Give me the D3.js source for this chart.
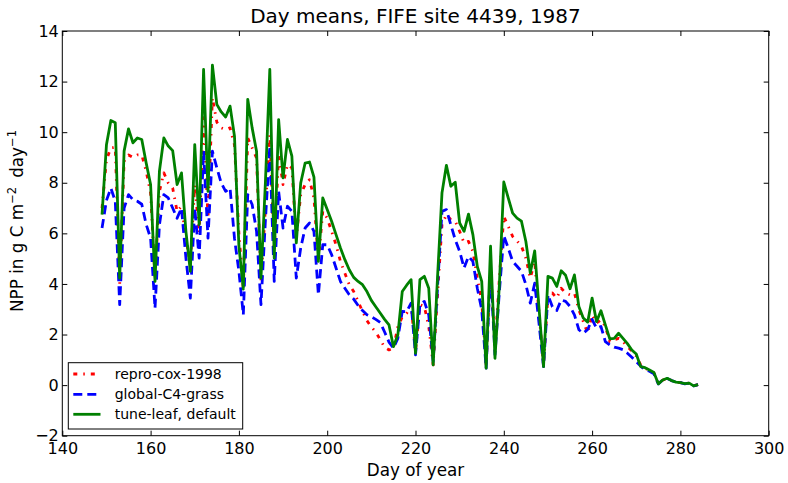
<!DOCTYPE html>
<html>
<head>
<meta charset="utf-8">
<script src="https://cdn.jsdelivr.net/npm/d3@7"></script>
<style>
  html, body { margin: 0; padding: 0; background: #fff; }
  svg { display: block; font-family: "DejaVu Sans", sans-serif; }
</style>
</head>
<body>
<svg id="chart" width="788" height="483"></svg>
<script>
// ---- data ----
const days = d3.range(149, 285);

const reproCox1998 = [
  7.0, 8.9, 9.38, 9.4, 4.0, 8.85, 9.1, 9.0, 9.1, 9.1,
  8.46, 7.6, 4.23, 7.66, 8.39, 7.99, 7.79, 6.87, 7.07, 5.81,
  4.76, 7.93, 6.01, 10.57, 6.6, 11.36, 10.4, 10.17, 10.1, 10.17,
  9.5, 6.0, 3.8, 9.77, 9.38, 8.98, 4.1, 7.0, 9.9, 5.29,
  9.12, 7.93, 8.72, 8.59, 5.81, 7.53, 7.93, 8.12, 7.4, 4.89,
  6.87, 6.6, 6.08, 5.55, 4.89, 4.43, 3.97, 3.7, 3.31, 2.91,
  2.55, 2.3, 2.1, 1.8, 1.5, 1.39, 1.46, 2.3, 2.7, 2.84,
  3.18, 1.33, 3.18, 3.11, 2.32, 0.8, 3.6, 6.34, 6.74, 6.54,
  6.48, 6.08, 5.62, 5.68, 5.29, 4.23, 3.31, 0.8, 4.63, 1.46,
  4.23, 6.67, 6.28, 5.88, 5.7, 5.49, 5.02, 4.23, 4.89, 2.8,
  0.8, 3.57, 3.64, 3.44, 3.83, 3.64, 3.57, 3.64, 2.98, 2.51,
  2.05, 2.78, 2.45, 2.58, 2.32, 1.72, 1.79, 1.85, 1.72, 1.52,
  1.35, 1.15, 0.8, 0.67, 0.58, 0.48, 0.05, 0.2, 0.26, 0.18,
  0.12, 0.1, 0.05, 0.08, -0.03, 0.02
];

const globalC4Grass = [
  6.21, 7.3, 7.79, 7.27, 3.18, 7.0, 7.53, 7.33, 7.27, 7.15,
  6.35, 5.81, 3.04, 6.34, 7.53, 7.4, 7.0, 6.6, 7.0, 5.02,
  3.44, 7.0, 5.02, 9.25, 5.81, 9.25, 8.59, 7.99, 7.66, 7.79,
  5.8, 4.5, 2.78, 7.53, 7.14, 6.08, 3.18, 6.5, 9.45, 4.1,
  7.66, 6.21, 7.07, 6.87, 4.23, 5.42, 6.21, 6.41, 6.08, 3.57,
  5.55, 5.55, 5.16, 4.63, 4.1, 3.83, 3.57, 3.4, 3.15, 2.95,
  2.78, 2.7, 2.6, 2.48, 2.1, 1.7, 1.46, 1.85, 2.91, 2.9,
  3.24, 1.2, 3.18, 3.31, 2.78, 0.93, 3.9, 6.87, 6.94, 6.34,
  5.75, 5.29, 4.63, 5.09, 4.89, 3.83, 2.98, 0.67, 4.63, 1.2,
  3.7, 5.9, 5.42, 4.89, 4.7, 4.5, 3.97, 3.24, 4.03, 2.4,
  0.73, 3.57, 3.1, 2.95, 3.37, 3.31, 3.11, 2.78, 2.19, 2.05,
  2.2, 2.6, 2.25, 2.32, 1.72, 1.59, 1.5, 1.46, 1.4, 1.26,
  1.1, 0.93, 0.75, 0.6, 0.55, 0.45, 0.05, 0.2, 0.26, 0.18,
  0.12, 0.1, 0.05, 0.08, -0.03, 0.02
];

const tuneLeafDefault = [
  6.74, 9.5, 10.46, 10.37, 4.23, 9.25, 10.13, 9.58, 9.77, 9.71,
  8.78, 7.93, 4.1, 8.46, 9.77, 9.45, 9.27, 7.93, 8.39, 6.08,
  4.5, 9.51, 6.34, 12.48, 7.66, 12.65, 11.1, 10.8, 10.6, 11.03,
  9.84, 5.5, 3.8, 11.3, 10.17, 9.25, 4.23, 8.0, 12.48, 5.02,
  10.5, 8.19, 9.71, 9.05, 5.62, 7.99, 8.78, 8.82, 8.22, 4.89,
  7.4, 6.94, 6.48, 5.95, 5.42, 4.96, 4.56, 4.26, 4.1, 3.97,
  3.7, 3.35, 3.1, 2.85, 2.6, 2.38, 1.52, 1.99, 3.7, 3.95,
  4.17, 1.26, 4.17, 4.3, 3.83, 0.8, 4.3, 7.6, 8.69, 7.86,
  8.02, 6.41, 6.08, 6.76, 5.95, 4.69, 4.1, 0.67, 5.49, 1.06,
  3.97, 8.03, 7.4, 6.8, 6.6, 6.48, 5.68, 4.43, 5.31, 3.0,
  0.73, 4.3, 4.23, 3.9, 4.52, 4.34, 3.81, 4.36, 3.11, 2.65,
  2.49, 3.44, 2.51, 2.94, 2.38, 1.83, 1.85, 2.05, 1.85, 1.64,
  1.39, 1.23, 0.73, 0.69, 0.6, 0.5, 0.05, 0.2, 0.27, 0.18,
  0.12, 0.1, 0.06, 0.08, -0.03, 0.02
];

const seriesNames = ["repro-cox-1998", "global-C4-grass", "tune-leaf, default"];
const seriesColors = ["#ff0000", "#0000ff", "#008000"];
const seriesDash = ["4,6,1.5,6", "9,5", null];
const xTicks = [140, 160, 180, 200, 220, 240, 260, 280, 300];
const yTicks = [-2, 0, 2, 4, 6, 8, 10, 12, 14];
const titleText = "Day means, FIFE site 4439, 1987";
const xLabelText = "Day of year";

// ---- layout ----
const svg = d3.select("#chart");
const mLeft = 62.3, mRight = 768.7, mTop = 31, mBottom = 435.7;

const x = d3.scaleLinear().domain([140, 300]).range([mLeft, mRight]);
const y = d3.scaleLinear().domain([-2, 14]).range([mBottom, mTop]);

const allSeries = [reproCox1998, globalC4Grass, tuneLeafDefault];

svg.append("defs").append("clipPath").attr("id", "clip")
  .append("rect").attr("x", mLeft).attr("y", mTop)
  .attr("width", mRight - mLeft).attr("height", mBottom - mTop);

const line = d3.line()
  .x((d, i) => x(days[i]))
  .y(d => y(d));

const plot = svg.append("g").attr("clip-path", "url(#clip)");
allSeries.forEach((s, k) => {
  const p = plot.append("path")
    .datum(s)
    .attr("d", line)
    .attr("fill", "none")
    .attr("stroke", seriesColors[k])
    .attr("stroke-width", 2.8)
    .attr("stroke-linejoin", "round");
  if (seriesDash[k]) p.attr("stroke-dasharray", seriesDash[k]);
});

// axes (ticks inside)
const fmt = d3.format("d");
const gx = svg.append("g").attr("transform", `translate(0,${mBottom})`)
  .call(d3.axisBottom(x).tickValues(xTicks).tickFormat(fmt).tickSizeInner(-5).tickSizeOuter(0).tickPadding(7.2));
const gy = svg.append("g").attr("transform", `translate(${mLeft},0)`)
  .call(d3.axisLeft(y).tickValues(yTicks).tickFormat(fmt).tickSizeInner(-5).tickSizeOuter(0).tickPadding(3.5));
const gt = svg.append("g").attr("transform", `translate(0,${mTop})`)
  .call(d3.axisTop(x).tickValues(xTicks).tickFormat("").tickSizeInner(-5).tickSizeOuter(0));
const gr = svg.append("g").attr("transform", `translate(${mRight},0)`)
  .call(d3.axisRight(y).tickValues(yTicks).tickFormat("").tickSizeInner(-5).tickSizeOuter(0));

[gx, gy, gt, gr].forEach(g => {
  g.select(".domain").remove();
  g.selectAll(".tick line").attr("stroke", "#000").attr("stroke-width", 1);
  g.selectAll(".tick text").attr("fill", "#000")
    .style("font-family", "'DejaVu Sans', sans-serif").style("font-size", "16px");
});

svg.append("rect")
  .attr("x", mLeft).attr("y", mTop)
  .attr("width", mRight - mLeft).attr("height", mBottom - mTop)
  .attr("fill", "none").attr("stroke", "#000").attr("stroke-width", 1);

// title
svg.append("text")
  .attr("x", (mLeft + mRight) / 2).attr("y", 23)
  .attr("text-anchor", "middle")
  .style("font-size", "20px")
  .text(titleText);

// x label
svg.append("text")
  .attr("x", (mLeft + mRight) / 2).attr("y", 475.5)
  .attr("text-anchor", "middle")
  .style("font-size", "16.8px")
  .text(xLabelText);

// y label
const yl = svg.append("text")
  .attr("transform", "translate(23,221) rotate(-90)")
  .attr("text-anchor", "middle")
  .style("font-size", "16.8px");
yl.append("tspan").text("NPP in g C m");
yl.append("tspan").attr("dy", -7).style("font-size", "11.5px").text("\u22122");
yl.append("tspan").attr("dy", 7).attr("dx", 9).text("day");
yl.append("tspan").attr("dy", -7).style("font-size", "11.5px").text("\u22121");

// legend
const lg = svg.append("g");
lg.append("rect")
  .attr("x", 68.3).attr("y", 362.7)
  .attr("width", 174.4).attr("height", 66.3)
  .attr("fill", "#fff").attr("stroke", "#000").attr("stroke-width", 1);
const rowY = [374, 394.3, 414.3];
seriesNames.forEach((name, k) => {
  const l = lg.append("line")
    .attr("x1", 73.3).attr("x2", 100.5)
    .attr("y1", rowY[k]).attr("y2", rowY[k])
    .attr("stroke", seriesColors[k])
    .attr("stroke-width", 2.8);
  if (seriesDash[k]) l.attr("stroke-dasharray", seriesDash[k]);
  lg.append("text")
    .attr("x", 114.7).attr("y", rowY[k] + 5)
    .style("font-size", "14px")
    .text(name);
});
</script>
</body>
</html>
